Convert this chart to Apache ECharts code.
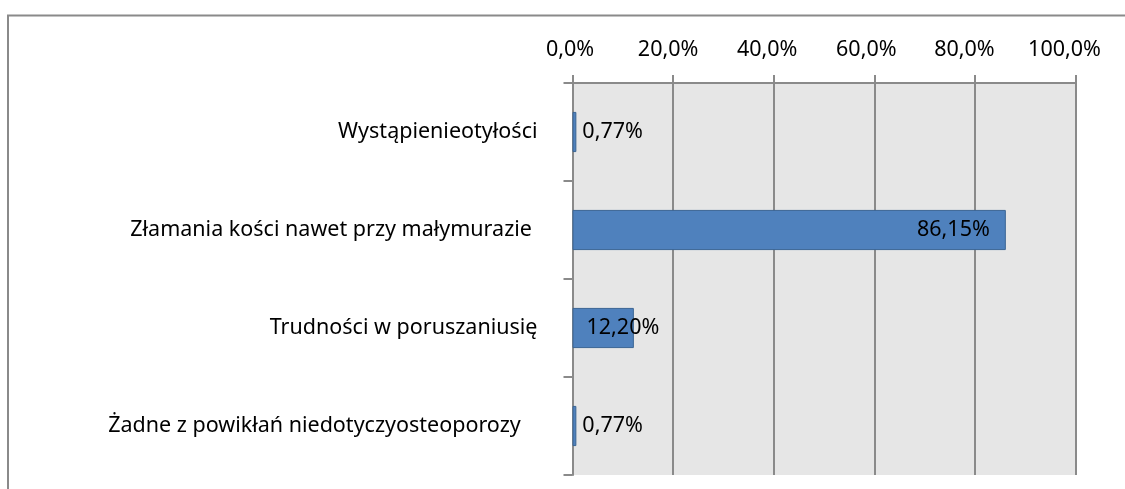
<!DOCTYPE html>
<html>
<head>
<meta charset="utf-8">
<script src="https://cdn.jsdelivr.net/npm/echarts@6/dist/echarts.min.js"></script>
<style>
  html, body { margin: 0; padding: 0; background: #ffffff; }
  #chart { width: 1125px; height: 489px; }
</style>
</head>
<body>
<div id="chart"></div>
<script>
// Skutki osteoporozy – odsetek odpowiedzi
const categories = [
  'Wystąpienieotyłości',
  'Złamania kości nawet przy małymurazie ',
  'Trudności w poruszaniusię',
  'Żadne z powikłań niedotyczyosteoporozy   '
];
const values = [0.77, 86.15, 12.20, 0.77];
const labelPlacement = ['right', 'insideRight', 'insideLeft', 'right'];
const axisTicks = [0, 20, 40, 60, 80, 100];

const FONT = 'Noto Sans';
const FONT_SIZE = 21.5;
const GRID_COLOR = '#8a8a8a';

const fmtPct = (v, digits) => v.toFixed(digits).replace('.', ',') + '%';

// top labels sit slightly left of their grid lines, more so further right
const tickLabelPad = [5, 10, 13, 16, 21, 22];
const tickRich = {};
tickLabelPad.forEach((p, i) => {
  tickRich['t' + i] = { padding: [0, p, 0, 0], fontFamily: FONT, fontSize: FONT_SIZE, color: '#000000' };
});

const chart = echarts.init(document.getElementById('chart'), null, { renderer: 'canvas' });

const option = {
  animation: false,
  backgroundColor: '#ffffff',
  textStyle: { fontFamily: FONT },
  graphic: [{
    type: 'polyline',
    shape: { points: [[8, 489], [8, 15.5], [1125, 15.5]] },
    style: { stroke: '#8a8a8a', lineWidth: 2, fill: null },
    silent: true
  }],
  grid: { left: 572.5, right: 49.5, top: 83, bottom: 14, containLabel: false,
          show: true, backgroundColor: '#e6e6e6', borderWidth: 0 },
  xAxis: {
    type: 'value',
    position: 'top',
    min: axisTicks[0],
    max: axisTicks[axisTicks.length - 1],
    interval: 20,
    axisLine: { show: true, lineStyle: { color: GRID_COLOR, width: 2 } },
    axisTick: { show: true, inside: false, length: 8, lineStyle: { color: GRID_COLOR, width: 2 } },
    splitLine: { show: true, lineStyle: { color: GRID_COLOR, width: 2 } },
    axisLabel: {
      margin: 22,
      color: '#000000',
      fontFamily: FONT,
      fontSize: FONT_SIZE,
      rich: tickRich,
      formatter: v => {
        const idx = axisTicks.indexOf(v);
        return '{t' + (idx < 0 ? 0 : idx) + '|' + fmtPct(v, 1) + '}';
      }
    }
  },
  yAxis: {
    type: 'category',
    inverse: true,
    data: categories,
    axisLine: { show: true, lineStyle: { color: GRID_COLOR, width: 2 } },
    axisTick: { show: true, inside: false, length: 9, lineStyle: { color: GRID_COLOR, width: 2 } },
    axisLabel: {
      margin: 35,
      color: '#000000',
      fontFamily: FONT,
      fontSize: FONT_SIZE
    }
  },
  series: [{
    type: 'bar',
    barCategoryGap: '59%',
    data: values.map((v, i) => ({
      value: v,
      label: {
        position: labelPlacement[i],
        distance: labelPlacement[i] === 'right' ? 6 : (labelPlacement[i] === 'insideLeft' ? 14 : 16)
      }
    })),
    itemStyle: { color: '#4f81bd', borderColor: '#3b6594', borderWidth: 1 },
    label: {
      show: true,
      color: '#000000',
      fontFamily: FONT,
      fontSize: FONT_SIZE,
      formatter: p => fmtPct(p.value, 2)
    }
  }]
};

chart.setOption(option);
</script>
</body>
</html>
